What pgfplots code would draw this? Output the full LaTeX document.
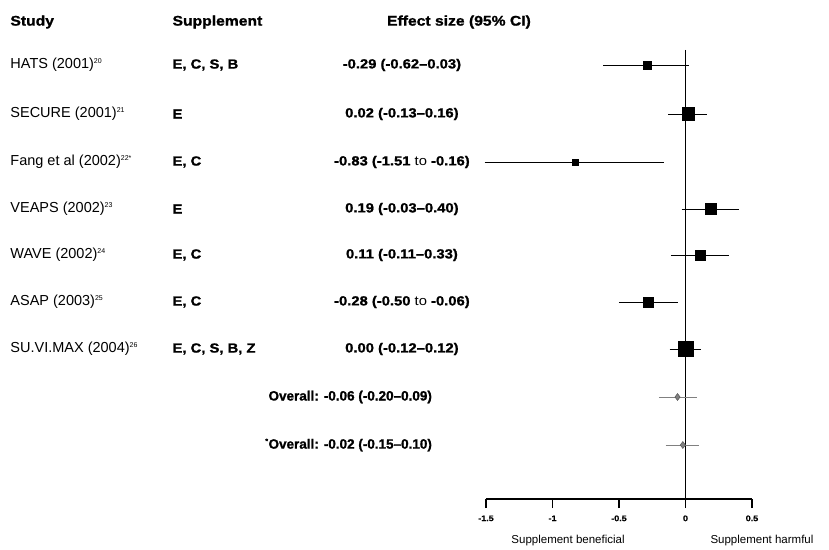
\documentclass[border=0pt]{standalone}
\usepackage{fontspec}
\setmainfont{Liberation Sans}
\newfontfamily\widefont{Liberation Sans}[FakeStretch=1.12, BoldFeatures={FakeBold=1.2}]
\newfontfamily\ovbase{Liberation Sans}[BoldFeatures={FakeBold=1.2}]
\usepackage{pgfplots}
\pgfplotsset{compat=1.18}
\newcommand{\rowfont}{\fontsize{14.5}{16}\selectfont}
\newcommand{\bdfont}{\widefont\fontsize{13.2}{15}\selectfont\bfseries}
\newcommand{\ovfont}{\ovbase\fontsize{13.5}{15}\selectfont\bfseries}
\newcommand{\hdfont}{\widefont\fontsize{14}{16}\selectfont\bfseries}
\newcommand{\supr}[1]{\textsuperscript{\fontsize{7}{7}\selectfont #1}}
\begin{document}
\begin{tikzpicture}
\begin{axis}[
 scale only axis, width=266pt, height=499pt,
 xmin=-1.5, xmax=0.5, ymin=-499, ymax=0,
 axis x line=bottom, axis y line=none,
 x axis line style={-, line width=1.8pt},
 xtick={-1.5,-1,-0.5,0,0.5},
 xticklabels={-1.5,-1,-0.5,0,0.5},
 tick align=outside, major tick length=9pt,
 every tick/.style={black, line width=1.5pt},
 xticklabel style={font=\widefont\fontsize{8}{9}\selectfont\bfseries, yshift=-4pt},
 clip=false,
]
% bounding box
\path (axis cs:-5.154,0) (axis cs:1.079,-548);
% vertical reference line
\addplot[black, line width=1.8pt] coordinates {(0,-50) (0,-499)};
% CI lines
\addplot[black, line width=0.8pt] coordinates {(-0.62,-65) (0.03,-65)};
\addplot[black, line width=0.8pt] coordinates {(-0.13,-114) (0.16,-114)};
\addplot[black, line width=0.8pt] coordinates {(-1.51,-162) (-0.16,-162)};
\addplot[black, line width=0.8pt] coordinates {(-0.03,-209) (0.40,-209)};
\addplot[black, line width=0.8pt] coordinates {(-0.11,-255) (0.33,-255)};
\addplot[black, line width=0.8pt] coordinates {(-0.50,-302) (-0.06,-302)};
\addplot[black, line width=0.8pt] coordinates {(-0.12,-349) (0.12,-349)};
\addplot[gray, line width=0.6pt] coordinates {(-0.20,-397) (0.09,-397)};
\addplot[gray, line width=0.6pt] coordinates {(-0.15,-445) (0.10,-445)};
% markers
\addplot[only marks, mark=square*, mark size=4pt, black] coordinates {(-0.29,-65)};
\addplot[only marks, mark=square*, mark size=6.3pt, black] coordinates {(0.02,-114)};
\addplot[only marks, mark=square*, mark size=3pt, black] coordinates {(-0.83,-162)};
\addplot[only marks, mark=square*, mark size=5.5pt, black] coordinates {(0.19,-209)};
\addplot[only marks, mark=square*, mark size=5pt, black] coordinates {(0.11,-255)};
\addplot[only marks, mark=square*, mark size=5pt, black] coordinates {(-0.28,-302)};
\addplot[only marks, mark=square*, mark size=7.5pt, black] coordinates {(0.00,-349)};
\addplot[only marks, mark=diamond*, mark size=3.5pt, draw=gray!60!black, fill=gray] coordinates {(-0.06,-397)};
\addplot[only marks, mark=diamond*, mark size=3.5pt, draw=gray!60!black, fill=gray] coordinates {(-0.02,-445)};
% headers
\node[anchor=west] at (axis cs:-5.102,-22) {\hdfont Study};
\node[anchor=west] at (axis cs:-3.883,-22) {\hdfont Supplement};
\node at (axis cs:-1.703,-22) {\hdfont Effect size (95\% CI)};
% study names
\node[anchor=west] at (axis cs:-5.102,-65) {\rowfont HATS (2001)\supr{20}};
\node[anchor=west] at (axis cs:-5.102,-114) {\rowfont SECURE (2001)\supr{21}};
\node[anchor=west] at (axis cs:-5.102,-162) {\rowfont Fang et al (2002)\supr{22*}};
\node[anchor=west] at (axis cs:-5.102,-209) {\rowfont VEAPS (2002)\supr{23}};
\node[anchor=west] at (axis cs:-5.102,-255) {\rowfont WAVE (2002)\supr{24}};
\node[anchor=west] at (axis cs:-5.102,-302) {\rowfont ASAP (2003)\supr{25}};
\node[anchor=west] at (axis cs:-5.102,-349) {\rowfont SU.VI.MAX (2004)\supr{26}};
% supplements
\node[anchor=west] at (axis cs:-3.883,-65) {\bdfont E, C, S, B};
\node[anchor=west] at (axis cs:-3.883,-114) {\bdfont E};
\node[anchor=west] at (axis cs:-3.883,-162) {\bdfont E, C};
\node[anchor=west] at (axis cs:-3.883,-209) {\bdfont E};
\node[anchor=west] at (axis cs:-3.883,-255) {\bdfont E, C};
\node[anchor=west] at (axis cs:-3.883,-302) {\bdfont E, C};
\node[anchor=west] at (axis cs:-3.883,-349) {\bdfont E, C, S, B, Z};
% effect sizes
\node at (axis cs:-2.132,-65) {\bdfont -0.29 (-0.62–0.03)};
\node at (axis cs:-2.132,-114) {\bdfont 0.02 (-0.13–0.16)};
\node at (axis cs:-2.132,-162) {\bdfont -0.83 (-1.51 \mdseries to\bfseries{} -0.16)};
\node at (axis cs:-2.132,-209) {\bdfont 0.19 (-0.03–0.40)};
\node at (axis cs:-2.132,-255) {\bdfont 0.11 (-0.11–0.33)};
\node at (axis cs:-2.132,-302) {\bdfont -0.28 (-0.50 \mdseries to\bfseries{} -0.06)};
\node at (axis cs:-2.132,-349) {\bdfont 0.00 (-0.12–0.12)};
\node[anchor=east] at (axis cs:-1.880,-397) {\ovfont Overall: -0.06 (-0.20–0.09)};
\node[anchor=east] at (axis cs:-1.880,-445) {\ovfont \supr{*}Overall: -0.02 (-0.15–0.10)};
% bottom labels
\node at (axis cs:-0.883,-541) {\fontsize{11.5}{13}\selectfont Supplement beneficial};
\node at (axis cs:0.575,-541) {\fontsize{11.5}{13}\selectfont Supplement harmful};
\end{axis}
\end{tikzpicture}
\end{document}
